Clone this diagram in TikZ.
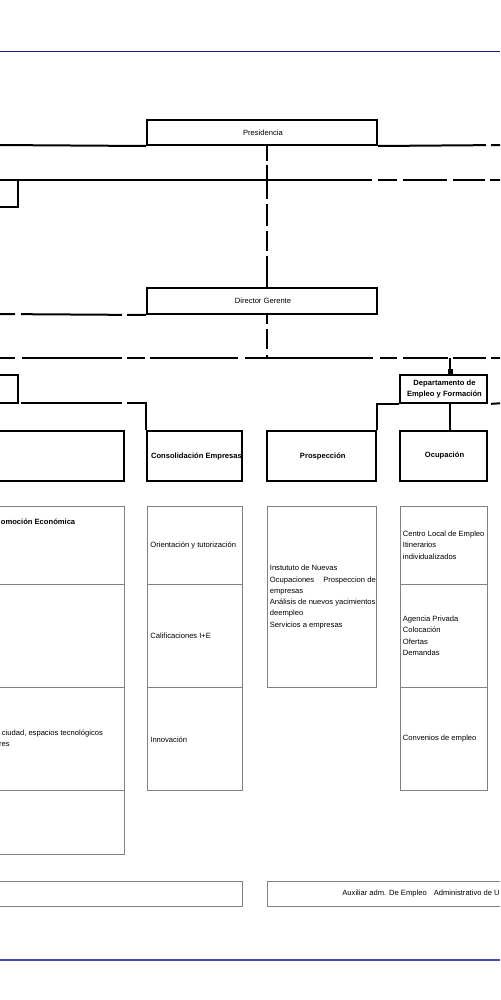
\documentclass[tikz,border=0pt]{standalone}
\usepackage{fontspec}
\setmainfont{Liberation Sans}
\usetikzlibrary{fit,arrows.meta}
\definecolor{navyA}{RGB}{30,30,130}
\definecolor{navyB}{RGB}{72,72,165}
\begin{document}
\begin{tikzpicture}[x=0.5pt,y=-0.5pt,
  every node/.style={font=\fontsize{3.8pt}{5.65pt}\selectfont, inner sep=0pt},
  hbox/.style={draw=black, line width=1pt, inner sep=0pt},
  gbox/.style={draw=black!50, line width=0.5pt, inner sep=0pt},
  conn/.style={draw=black, line width=1pt},
  lbl/.style={anchor=west, align=left},
  bold/.style={font=\fontsize{3.8pt}{5.65pt}\selectfont\bfseries},
  rule/.style={line width=0.75pt}]
\useasboundingbox (0,0) rectangle (500,1000);
\fill[white] (0,0) rectangle (500,1000);
\clip (0,0) rectangle (500,1000);

% rules
\draw[rule, navyA] (0,51.5) -- (500,51.5);
\draw[rule, navyB] (0,960) -- (500,960);

% thick boxes
\node[hbox, fit={(147,120) (377,145)}] (pres) {};
\node[hbox, fit={(147,288) (377,314)}] (dg) {};
\node[hbox, fit={(-20,180) (18,207)}] (lb1) {};
\node[hbox, fit={(-20,375) (18,403)}] (lb2) {};
\node[hbox, fit={(400,375) (487,403)}] (dept) {};
\node[hbox, fit={(-20,431) (124,481)}] (lb3) {};
\node[hbox, fit={(147,431) (242,481)}] (cons) {};
\node[hbox, fit={(267,431) (376,481)}] (prosp) {};
\node[hbox, fit={(400,431) (487,481)}] (ocup) {};

% labels of thick boxes
\node (lpres) at (263,132.5) {Presidencia};
\node (ldg) at (263,301) {Director Gerente};
\node[align=center, font=\fontsize{3.8pt}{5.4pt}\selectfont\bfseries] (ldept) at (444.5,389) {Departamento de\\Empleo y Formación};
\node[bold] (lcons) at (196.5,456.7) {Consolidación Empresas};
\node[bold] (lprosp) at (322.8,456.7) {Prospección};
\node[bold] (locup) at (444.5,455.7) {Ocupación};

% grey boxes
\node[gbox, fit={(-20,506) (124,584)}] (g11) {};
\node[gbox, fit={(-20,584) (124,687)}] (g12) {};
\node[gbox, fit={(-20,687) (124,790)}] (g13) {};
\node[gbox, fit={(-20,790) (124,854)}] (g14) {};
\node[gbox, fit={(147,506) (242,584)}] (g21) {};
\node[gbox, fit={(147,584) (242,687)}] (g22) {};
\node[gbox, fit={(147,687) (242,790)}] (g23) {};
\node[gbox, fit={(267,506) (376,687)}] (g31) {};
\node[gbox, fit={(400,506) (487,584)}] (g41) {};
\node[gbox, fit={(400,584) (487,687)}] (g42) {};
\node[gbox, fit={(400,687) (487,790)}] (g43) {};
\node[gbox, fit={(-20,881) (242,906)}] (b1) {};
\node[gbox, fit={(267,881) (520,906)}] (b2) {};

% texts in grey boxes
\node[lbl, bold] (t1) at (0.5,522) {omoción Económica};
\node[lbl] (t2) at (150,545.5) {Orientación y tutorización};
\node[lbl] (t3) at (150,636) {Calificaciones I+E};
\node[lbl] (t4) at (150,739.5) {Innovación};
\node[lbl] (t5) at (1.5,733) {ciudad, espacios tecnológicos};
\node[anchor=east] (t6) at (10,744.5) {res};
\node[lbl] (t7) at (269.5,597) {Instututo de Nuevas\\Ocupaciones\hspace{3.5pt} Prospeccion de\\empresas\\Análisis de nuevos yacimientos\\deempleo\\Servicios a empresas};
\node[lbl] (t8) at (402.5,545) {Centro Local de Empleo\\Itinerarios\\individualizados};
\node[lbl] (t9) at (402.5,635.8) {Agencia Privada\\Colocación\\Ofertas\\Demandas};
\node[lbl] (t10) at (402.5,739) {Convenios de empleo};
\node[lbl] (t11) at (342,893.3) {Auxiliar adm. De Empleo\hspace{2.5pt} Administrativo de U};

% coordinates for free ends
\coordinate (aL) at (-5,145);
\coordinate (aR) at (505,145);
\coordinate (bL) at (-5,180);
\coordinate (bR) at (505,180);
\coordinate (cL) at (-5,314);
\coordinate (dL) at (-5,358);
\coordinate (dR) at (505,358);
\coordinate (dmid) at (267,358);
\coordinate (dtop) at (450,358);
\coordinate (eL) at (-5,403);
\coordinate (eR) at (505,403);

% connectors
\draw[conn] (aL) -- (pres.south west);
\draw[conn, dash pattern=on 54pt off 2.5pt on 30pt] (pres.south east) -- (aR);
\draw[conn, dash pattern=on 7.5pt off 2pt on 17pt off 2.5pt on 11pt off 2.5pt on 10pt off 2.5pt on 20pt] (dmid |- pres.south) -- (dmid |- dg.north);
\draw[conn, dash pattern=on 188.5pt off 3pt on 9.5pt off 3pt on 22pt off 3pt on 16pt off 2.5pt on 20pt] (bL) -- (bR);
\draw[conn, dash pattern=on 10pt off 3pt on 50.5pt off 2.5pt on 20pt] (cL) -- (dg.south west);
\draw[conn, dash pattern=on 4.5pt off 2.5pt on 10pt off 3pt on 10pt] (dmid |- dg.south) -- (dmid);
\draw[conn, dash pattern=on 10pt off 3.5pt on 50pt off 2.5pt on 9pt off 2.5pt on 44pt off 3.5pt on 64pt off 3.5pt on 8.5pt off 3pt on 22.5pt off 2.5pt on 16.5pt off 2.5pt on 10pt] (dL) -- (dR);
\draw[conn, -{Square[length=2.5pt,width=2.5pt]}] (dtop) -- (dtop |- dept.north);
\draw[conn, dash pattern=on 10pt off 3pt on 50.5pt off 2.5pt on 40pt] (eL) -| (cons.north west);
\draw[conn] (dept.south west) -| (prosp.north east);
\draw[conn, dash pattern=on 20pt off 1.5pt, dash phase=20pt] (dept.south east) -- (eR);
\draw[conn] (dtop |- dept.south) -- (dtop |- ocup.north);
\end{tikzpicture}
\end{document}
